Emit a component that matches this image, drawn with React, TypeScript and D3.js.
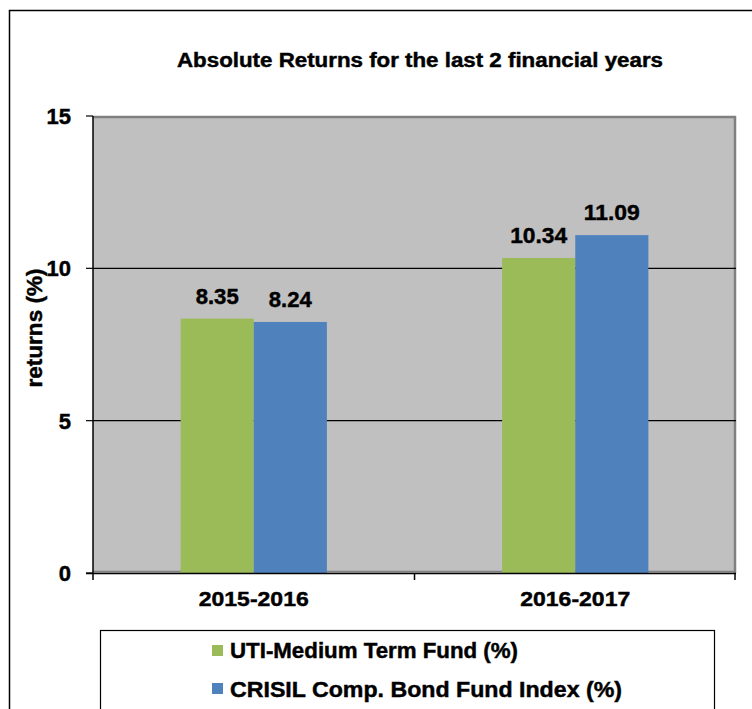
import React from "react";
import * as d3 from "d3";

const categories = ["2015-2016", "2016-2017"];
const seriesNames = ["UTI-Medium Term Fund (%)", "CRISIL Comp. Bond Fund Index (%)"];
const utiValues = [8.35, 10.34];
const crisilValues = [8.24, 11.09];
const yTicks = [0, 5, 10, 15];
const colors = ["#9BBB59", "#4F81BD"];
const title = "Absolute Returns for the last 2 financial years";
const yTitle = "returns (%)";

const W = 752;
const H = 709;
const FONT = "'Liberation Sans', Arial, sans-serif";

export default function App() {
  const left = 93, right = 736, top = 116, bottom = 573;
  const x0 = d3.scaleBand<string>().domain(categories).range([left, right]).paddingInner(0.545).paddingOuter(0.2725);
  const x1 = d3.scaleBand<string>().domain(seriesNames).range([0, x0.bandwidth()]);
  const y = d3.scaleLinear().domain([0, 15]).range([bottom, top]);
  const series = [utiValues, crisilValues];
  const labelW = [[43, 43], [57, 56]];
  const heavy = { stroke: "#000", strokeWidth: 0.45 };

  return (
    <svg width={W} height={H} style={{ position: "absolute", left: 0, top: 0, display: "block" }} fontFamily={FONT} fontWeight="bold">
      <rect x={0} y={0} width={W} height={H} fill="#fff" />
      <rect x={9.5} y={10.5} width={800} height={800} fill="none" stroke="#000" strokeWidth={1.5} />
      <text x={420} y={67} textAnchor="middle" fontSize={20} textLength={486} lengthAdjust="spacingAndGlyphs" {...heavy}>{title}</text>
      {/* plot area */}
      <rect x={left} y={top} width={right - left} height={bottom - top} fill="#C0C0C0" />
      <path d={`M${left},${top + 1}H${right - 1}V${bottom}`} fill="none" stroke="#808080" strokeWidth={2.5} />
      <line x1={left} x2={right} y1={bottom - 1.5} y2={bottom - 1.5} stroke="#808080" strokeWidth={1.5} />
      {yTicks.filter(t => t > 0 && t < 15).map(t => (
        <line key={t} x1={left} x2={right} y1={y(t)} y2={y(t)} stroke="#000" strokeWidth={1.2} />
      ))}
      {categories.map((c, ci) => (
        <g key={c}>
          {series.map((vals, si) => {
            const bx = (x0(c) as number) + (x1(seriesNames[si]) as number);
            const bw = x1.bandwidth();
            return (
              <g key={si}>
                <rect x={bx} y={y(vals[ci])} width={bw} height={bottom - y(vals[ci])} fill={colors[si]} />
                <text x={bx + bw / 2} y={y(vals[ci]) - 15} textAnchor="middle" fontSize={22} textLength={labelW[ci][si]} lengthAdjust="spacingAndGlyphs" {...heavy}>{vals[ci].toFixed(2)}</text>
              </g>
            );
          })}
          <text x={(x0(c) as number) + x0.bandwidth() / 2} y={606} textAnchor="middle" fontSize={21} textLength={110} lengthAdjust="spacingAndGlyphs" {...heavy}>{c}</text>
        </g>
      ))}
      {/* axes */}
      <line x1={left} x2={left} y1={top} y2={bottom + 1} stroke="#000" strokeWidth={1.5} />
      <line x1={left - 7} x2={right} y1={bottom + 0.5} y2={bottom + 0.5} stroke="#000" strokeWidth={1.5} />
      {yTicks.map(t => (
        <g key={t}>
          <line x1={left - 7} x2={left} y1={y(t)} y2={y(t)} stroke="#000" strokeWidth={1.2} />
          <text x={71} y={y(t) + 8} textAnchor="end" fontSize={22} {...heavy}>{t}</text>
        </g>
      ))}
      {[left, (left + right) / 2, right - 1].map((xv, i) => (
        <line key={i} x1={xv} x2={xv} y1={bottom} y2={bottom + 7} stroke="#000" strokeWidth={1.5} />
      ))}
      <text transform={`translate(42,328) rotate(-90)`} textAnchor="middle" fontSize={22} textLength={119} lengthAdjust="spacingAndGlyphs" {...heavy}>{yTitle}</text>
      {/* legend */}
      <rect x={100.5} y={630.5} width={614} height={100} fill="#fff" stroke="#000" strokeWidth={1.2} />
      {seriesNames.map((s, i) => (
        <g key={s}>
          <rect x={212} y={645 + i * 38} width={11} height={11} fill={colors[i]} />
          <text x={230} y={658 + i * 39} fontSize={22} textLength={i === 0 ? 288 : 392} lengthAdjust="spacingAndGlyphs" {...heavy}>{s}</text>
        </g>
      ))}
    </svg>
  );
}
